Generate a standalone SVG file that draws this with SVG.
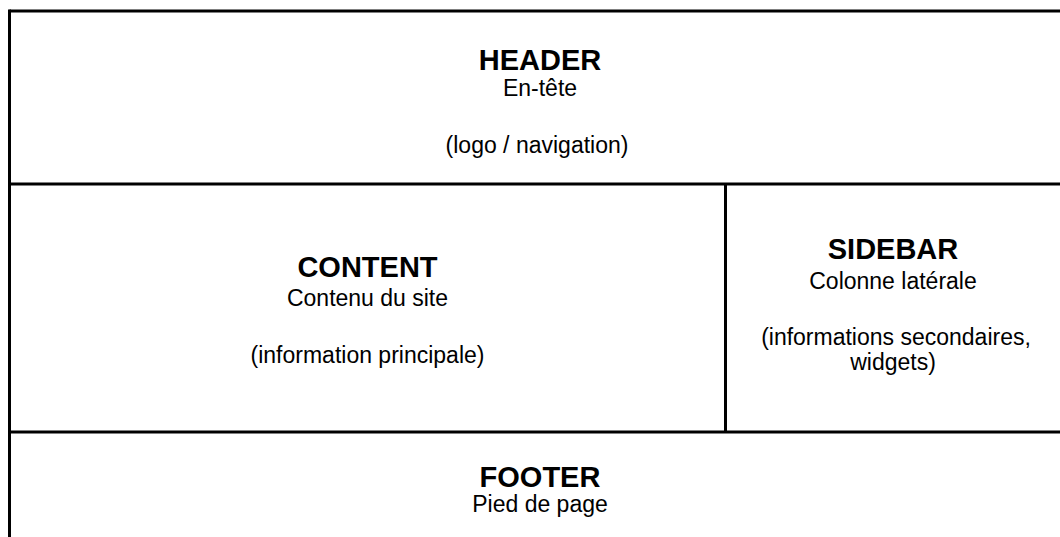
<svg xmlns="http://www.w3.org/2000/svg" width="1060" height="537" viewBox="0 0 1060 537">
<style>
.ln{stroke:#000;stroke-width:3;fill:none}
.t{font-family:"Liberation Sans",Arial,sans-serif;text-anchor:middle;fill:#000}
.b{font-weight:bold;font-size:29px}
.r{font-size:23px}
</style>
<rect width="1060" height="537" fill="#fff"/>
<g id="connectors">
<line class="ln" x1="9.5" y1="11" x2="1062" y2="11"/>
<line class="ln" x1="9.5" y1="9.5" x2="9.5" y2="540"/>
<line class="ln" x1="9.5" y1="184" x2="1062" y2="184"/>
<line class="ln" x1="725.5" y1="184" x2="725.5" y2="432"/>
<line class="ln" x1="9.5" y1="432" x2="1062" y2="432"/>
</g>
<g id="header">
<text class="t b" x="540" y="69.5">HEADER</text>
<text class="t r" x="540" y="95.5">En-tête</text>
<text class="t r" x="537" y="153">(logo / navigation)</text>
</g>
<g id="content">
<text class="t b" x="367.5" y="276.5">CONTENT</text>
<text class="t r" x="367.5" y="305.5">Contenu du site</text>
<text class="t r" x="367.5" y="363">(information principale)</text>
</g>
<g id="sidebar">
<text class="t b" x="893" y="258.5">SIDEBAR</text>
<text class="t r" x="893" y="288.5">Colonne latérale</text>
<text class="t r" x="896" y="344.5">(informations secondaires,</text>
<text class="t r" x="893" y="370">widgets)</text>
</g>
<g id="footer">
<text class="t b" x="540" y="486.5">FOOTER</text>
<text class="t r" x="540" y="512">Pied de page</text>
</g>
</svg>
